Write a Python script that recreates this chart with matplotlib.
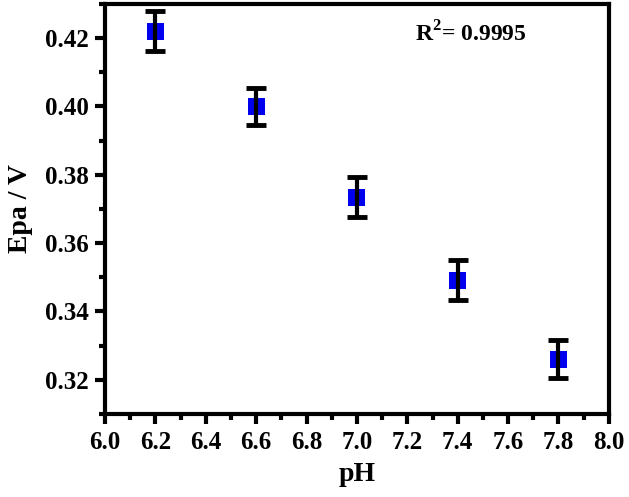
import matplotlib
matplotlib.use('Agg')
import matplotlib.pyplot as plt
from matplotlib.ticker import MultipleLocator

# data
ph = [6.2, 6.6, 7.0, 7.4, 7.8]
epa = [0.422, 0.400, 0.3735, 0.3492, 0.326]
err = [0.0058, 0.0055, 0.0058, 0.0058, 0.0056]
r2_label = r'R$^\mathbf{2}$= 0.9995'

plt.rcParams['font.family'] = 'Liberation Serif'
plt.rcParams['font.weight'] = 'bold'
plt.rcParams['mathtext.fontset'] = 'custom'
plt.rcParams['mathtext.bf'] = 'Liberation Serif:bold'
plt.rcParams['mathtext.rm'] = 'Liberation Serif:bold'

fig = plt.figure(figsize=(6.29, 4.97), dpi=100)
ax = fig.add_axes([0.167, 0.167, 0.801, 0.825])

ax.errorbar(ph, epa, yerr=err, fmt='none', ecolor='black', elinewidth=3,
            capsize=7, capthick=3.5, zorder=2)
ax.scatter(ph, epa, marker='s', s=150, color='#0000ee', edgecolor='none', zorder=1)

ax.set_xlim(6.0, 8.0)
ax.set_ylim(0.31, 0.43)
ax.xaxis.set_major_locator(MultipleLocator(0.2))
ax.xaxis.set_minor_locator(MultipleLocator(0.1))
ax.yaxis.set_major_locator(MultipleLocator(0.02))
ax.yaxis.set_minor_locator(MultipleLocator(0.01))
ax.xaxis.set_major_formatter(plt.FormatStrFormatter('%.1f'))
ax.yaxis.set_major_formatter(plt.FormatStrFormatter('%.2f'))

for s in ax.spines.values():
    s.set_linewidth(3)
ax.tick_params(which='major', direction='out', length=7, width=3, labelsize=18, pad=5)
ax.tick_params(which='minor', direction='out', length=4, width=3)
ax.tick_params(top=False, right=False, which='both')

ax.set_xlabel('pH', fontsize=20, fontweight='bold', labelpad=6)
ax.set_ylabel('Epa / V', fontsize=20, fontweight='bold', labelpad=8)

ax.text(7.23, 0.4214, r2_label, fontsize=17, fontweight='bold', va='center', ha='left')

fig.savefig('out.png', dpi=100)
